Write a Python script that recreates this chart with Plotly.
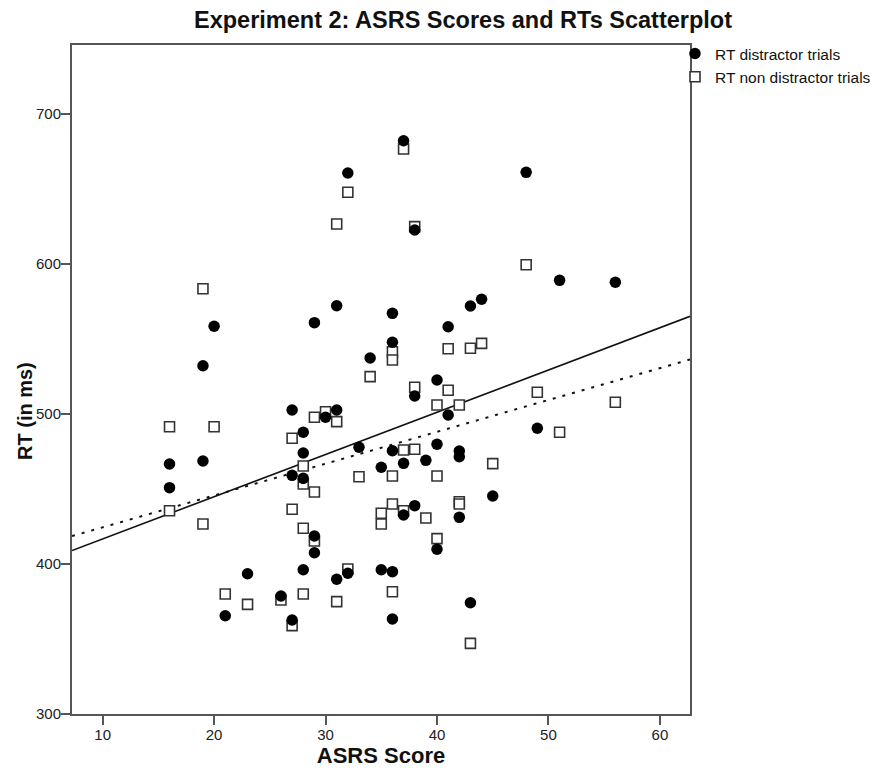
import numpy as np
import plotly.graph_objects as go

# ASRS score and mean RT (ms) per participant, distractor trials
asrs_dist = [37, 32, 38, 20, 19, 31, 29, 36, 36, 34, 38, 48, 51, 56, 43, 44,
             41, 40, 27, 30, 31, 28, 16, 19, 28, 27, 28, 33, 36, 37, 35, 16,
             37, 38, 29, 29, 23, 28, 32, 31, 35, 36, 26, 21, 27, 36, 41, 49,
             40, 42, 42, 39, 45, 42, 40, 43]
rt_dist = [682.2, 660.7, 622.7, 558.5, 532.2, 572.2, 560.9, 567.1, 547.8, 537.3,
           512.0, 661.1, 589.1, 587.8, 572.0, 576.5, 558.2, 522.7, 502.7, 497.8,
           502.7, 487.8, 466.7, 468.7, 474.0, 459.1, 457.1, 477.8, 475.5, 467.1,
           464.5, 450.9, 432.7, 438.9, 418.7, 407.5, 393.5, 396.2, 393.8, 389.8,
           396.2, 394.9, 378.7, 365.5, 362.7, 363.3, 499.3, 490.5, 479.8, 475.3,
           471.5, 469.1, 445.3, 431.1, 409.8, 374.2]

# ASRS score and mean RT (ms) per participant, non distractor trials
asrs_nondist = [37, 32, 31, 38, 19, 36, 36, 34, 38, 48, 41, 43, 44, 41, 49, 56,
                29, 30, 31, 16, 20, 27, 28, 28, 29, 33, 37, 38, 36, 16, 19, 27,
                35, 35, 36, 37, 28, 29, 32, 36, 21, 23, 26, 28, 31, 27, 40, 42,
                51, 45, 40, 42, 42, 39, 40, 43]
rt_nondist = [676.7, 647.8, 626.7, 624.9, 583.5, 541.5, 536.0, 524.9, 517.8, 599.5,
              543.5, 543.8, 547.1, 515.8, 514.5, 507.8, 497.8, 501.5, 494.9, 491.5,
              491.5, 483.8, 465.3, 453.3, 448.0, 458.2, 476.0, 476.5, 458.7, 435.5,
              426.7, 436.5, 433.8, 426.7, 440.0, 435.5, 423.8, 415.3, 396.7, 381.5,
              380.0, 373.1, 376.0, 380.0, 374.9, 358.9, 506.0, 506.0, 487.8, 466.9,
              458.7, 441.5, 440.0, 430.7, 416.9, 347.1]

x_range = [7.25, 62.7]
y_range = [300, 746]
x_ticks = [10, 20, 30, 40, 50, 60]
y_ticks = [300, 400, 500, 600, 700]

FONT = "Arial, Liberation Sans, sans-serif"
W, H = 873, 770
ML, MR, MT, MB = 72, 183, 45, 56
PW = W - ML - MR
PH = H - MT - MB


def fit_line(x, y):
    slope, intercept = np.polyfit(np.asarray(x, float), np.asarray(y, float), 1)
    xs = np.array(x_range)
    return xs, slope * xs + intercept


fig = go.Figure()

# least-squares fit lines spanning the full x axis
fx, fy = fit_line(asrs_dist, rt_dist)
fig.add_trace(go.Scatter(x=fx, y=fy, mode="lines", showlegend=False,
                         line=dict(color="#111111", width=1.6), hoverinfo="skip"))
fx2, fy2 = fit_line(asrs_nondist, rt_nondist)
fig.add_trace(go.Scatter(x=fx2, y=fy2, mode="lines", showlegend=False,
                         line=dict(color="#111111", width=2, dash="3px,7px"),
                         hoverinfo="skip"))

fig.add_trace(go.Scatter(
    x=asrs_nondist, y=rt_nondist, mode="markers", name="RT non distractor trials",
    marker=dict(symbol="square", size=10, color="white",
                line=dict(color="#333333", width=1.6)),
))
fig.add_trace(go.Scatter(
    x=asrs_dist, y=rt_dist, mode="markers", name="RT distractor trials",
    marker=dict(symbol="circle", size=11.5, color="black",
                line=dict(color="black", width=0)),
))

axis_common = dict(
    showgrid=False, zeroline=False, showline=True, linecolor="#555555",
    linewidth=2, mirror=True, ticks="outside", ticklen=9, tickwidth=2,
    tickcolor="#555555", tickfont=dict(family=FONT, size=15, color="#222222"),
    automargin=False, ticklabelstandoff=-3,
)

fig.update_layout(
    width=W, height=H,
    margin=dict(l=ML, r=MR, t=MT, b=MB, autoexpand=False),
    paper_bgcolor="white", plot_bgcolor="white",
    font=dict(family=FONT, color="#111111"),
    title=dict(text="<b>Experiment 2: ASRS Scores and RTs Scatterplot</b>",
               font=dict(family=FONT, size=23.5, color="#111111"),
               x=(463 - ML) / PW, xref="paper", xanchor="center",
               y=1 - 20 / H, yref="container", yanchor="middle"),
    xaxis=dict(range=x_range, tickvals=x_ticks,
               title=dict(text="<b>ASRS Score</b>", standoff=6,
                          font=dict(family=FONT, size=22, color="#111111")),
               **axis_common),
    yaxis=dict(range=y_range, tickvals=y_ticks, **axis_common),
    legend=dict(x=(675 - ML) / PW, xanchor="left", y=1.012, yanchor="top",
                bgcolor="rgba(0,0,0,0)", borderwidth=0,
                font=dict(family=FONT, size=15.5, color="#111111"),
                traceorder="reversed", tracegroupgap=0),
    annotations=[dict(
        text="<b>RT (in ms)</b>", textangle=-90, showarrow=False,
        xref="paper", yref="paper",
        x=(25 - ML) / PW, y=(H - MB - 411) / PH,
        xanchor="center", yanchor="middle",
        font=dict(family=FONT, size=20, color="#111111"),
    )],
)

fig.write_html("out.html")
